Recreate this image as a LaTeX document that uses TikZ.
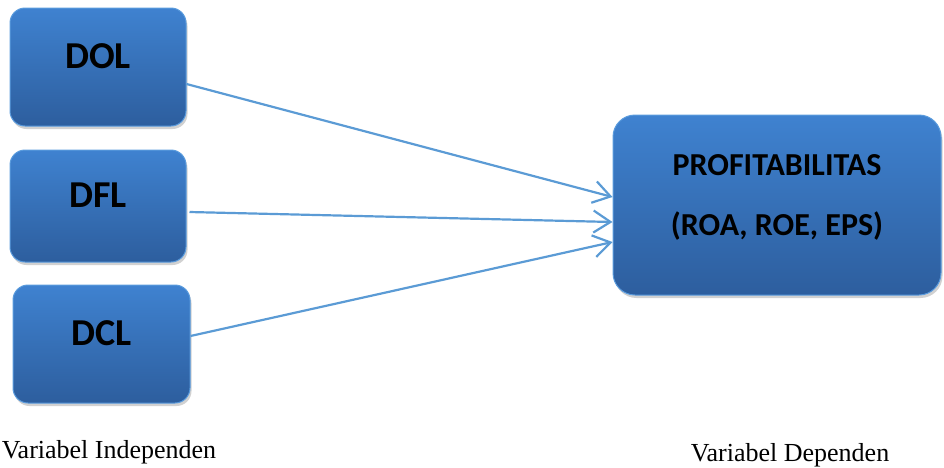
\documentclass[tikz,border=0pt]{standalone}
\usepackage{fontspec}
\setmainfont{Liberation Serif}
\newfontfamily\boxfont{Carlito}
\usetikzlibrary{arrows.meta, shadows}

\definecolor{boxtop}{HTML}{3F82D0}
\definecolor{boxbot}{HTML}{2D5E9E}
\definecolor{boxrim}{HTML}{5A9BDD}
\definecolor{linkblue}{HTML}{5B9BD5}

\tikzset{
  varbox/.style={rounded corners=15pt, draw=boxrim, line width=1pt,
    top color=boxtop, bottom color=boxbot,
    drop shadow={shadow xshift=1.5pt, shadow yshift=-3pt, fill=black!30, opacity=0.6},
    font=\boxfont\bfseries\fontsize{38}{40}\selectfont,
    text height=24pt, text depth=22pt},
  bigbox/.style={rounded corners=22pt, draw=boxrim, line width=1pt,
    top color=boxtop, bottom color=boxbot,
    drop shadow={shadow xshift=1.5pt, shadow yshift=-3pt, fill=black!30, opacity=0.6}},
  boxtext/.style={font=\boxfont\bfseries\fontsize{32}{60}\selectfont, align=center},
  link/.style={linkblue, line width=2.2pt, -{Straight Barb[length=17pt, width=22pt, line width=2.2pt]}},
  caption/.style={font=\fontsize{26}{30}\selectfont, anchor=base}
}

\begin{document}
\begin{tikzpicture}[x=1pt, y=-1pt]
  \useasboundingbox (0,0) rectangle (944,467);

  % Independent variables
  \node[varbox, minimum width=176pt, minimum height=118pt] (dol) at (98,67) {DOL};
  \node[varbox, minimum width=176pt, minimum height=112pt] (dfl) at (98,206) {DFL};
  \node[varbox, minimum width=177pt, minimum height=118pt] (dcl) at (101.5,344) {DCL};

  % Dependent variable
  \node[bigbox, minimum width=328pt, minimum height=180pt] (profit) at (777,205) {};
  \node[boxtext] (profitlbl) at ([yshift=8pt]profit.center) {PROFITABILITAS\\(ROA, ROE, EPS)};

  % Links
  \draw[link] ([yshift=-17pt]dol.east) -- ([yshift=8pt]profit.west);
  \draw[link] ([xshift=3pt, yshift=-6pt]dfl.east) -- ([yshift=-17pt]profit.west);
  \draw[link] ([yshift=8pt]dcl.east) -- ([yshift=-37pt]profit.west);

  % Captions
  \node[caption] (indep) at (109,458) {Variabel Independen};
  \node[caption] (dep) at (790,461) {Variabel Dependen};
\end{tikzpicture}
\end{document}
